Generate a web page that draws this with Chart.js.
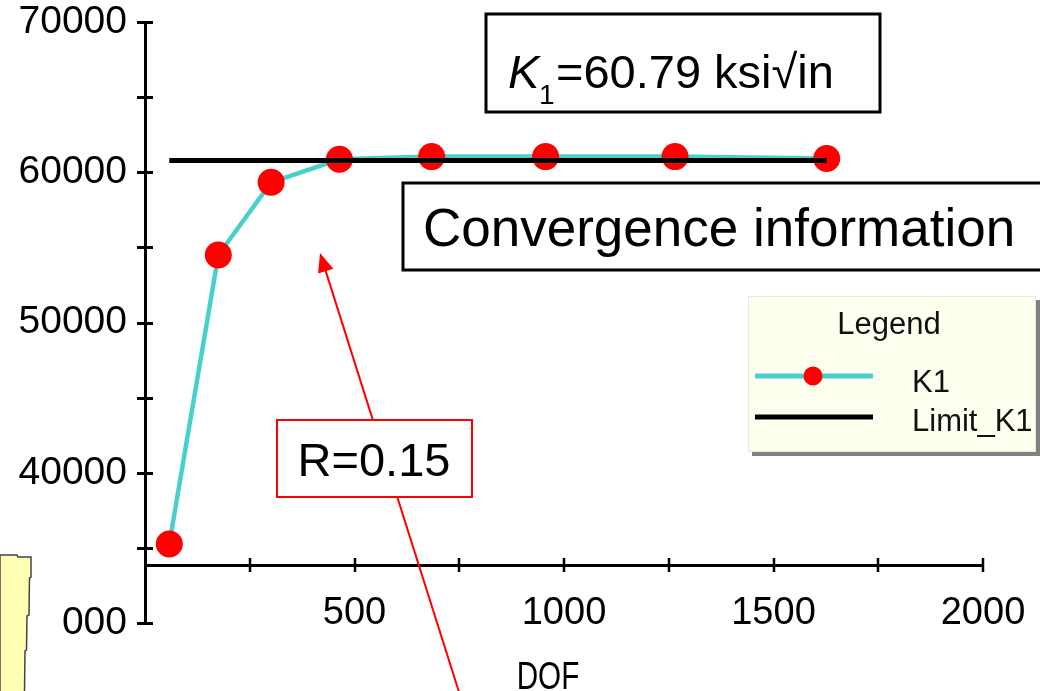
<!DOCTYPE html>
<html><head><meta charset="utf-8">
<script src="https://cdn.jsdelivr.net/npm/chart.js@4.4.1/dist/chart.umd.min.js"></script>
<style>html,body{margin:0;padding:0;background:#fff;overflow:hidden}#wrap{width:1040px;height:691px;position:relative}</style>
</head><body><div id="wrap"><canvas id="c" width="1040" height="691"></canvas></div>
<script>
// ---- data ----
const dof = [58, 175, 301, 464, 684, 956, 1265, 1627];
const k1 = [35260, 54490, 59330, 60860, 61040, 61040, 61040, 60920];
const limitDof = [58, 1627];
const limitK1 = [60790, 60790];
const xTickValues = [500, 1000, 1500, 2000];
const yTickValues = [30000, 40000, 50000, 60000, 70000];
const yTickTexts = ['000', '40000', '50000', '60000', '70000'];
const seriesNames = ['K1', 'Limit_K1'];
const xAxisCross = 33860;

const FONT = "'Liberation Sans', Arial, sans-serif";
const CYAN = '#48D1CC';

const overlay = {
  id: 'overlay',
  afterDraw(chart) {
    const c = chart.ctx, ca = chart.chartArea;
    const xs = chart.scales.x, ys = chart.scales.y;
    c.save();
    // tick marks crossing the axes
    c.strokeStyle = '#000';
    c.lineWidth = 3;
    ys.ticks.forEach(t => {
      const py = Math.round(ys.getPixelForValue(t.value)) + 0.5;
      c.beginPath(); c.moveTo(ca.left - 8, py); c.lineTo(ca.left + 8, py); c.stroke();
    });
    const axY = ys.getPixelForValue(xAxisCross);
    c.lineWidth = 2.5;
    xs.ticks.forEach(t => {
      if (t.value <= 0) return;
      const px = Math.round(xs.getPixelForValue(t.value));
      c.beginPath(); c.moveTo(px, axY - 7); c.lineTo(px, axY + 7); c.stroke();
    });
    // axis title
    c.fillStyle = '#000';
    c.save();
    c.translate(548, 689); c.scale(0.78, 1);
    c.font = '38px ' + FONT;
    c.textAlign = 'center'; c.textBaseline = 'alphabetic';
    c.fillText('DOF', 0, 0);
    c.restore();

    // yellow note at left bottom
    c.beginPath();
    const poly = [[0,555],[17,555],[18,557],[31,557],[31,577],[29.5,578],[29,615],[27,616],[26.5,650],[25,651],[24.5,692],[0,692]];
    poly.forEach((p,i)=> i ? c.lineTo(p[0],p[1]) : c.moveTo(p[0],p[1]));
    c.closePath();
    c.fillStyle = '#FFFFB3'; c.fill();
    c.strokeStyle = '#444'; c.lineWidth = 1.5; c.stroke();

    // K1 value box
    c.fillStyle = '#fff'; c.strokeStyle = '#000'; c.lineWidth = 3;
    c.fillRect(486, 14, 394, 98); c.strokeRect(486, 14, 394, 98);
    c.fillStyle = '#000'; c.textAlign = 'left';
    c.font = 'italic 47px ' + FONT; c.fillText('K', 508, 88);
    c.font = '28px ' + FONT; c.fillText('1', 539, 104);
    c.font = '47px ' + FONT; c.fillText('=60.79 ksi\u221Ain', 556, 88);

    // Convergence information box
    c.fillStyle = '#fff'; c.lineWidth = 3;
    c.fillRect(403, 183, 660, 87); c.strokeRect(403, 183, 660, 87);
    c.fillStyle = '#000'; c.font = '53px ' + FONT;
    c.fillText('Convergence information', 423, 246);

    // red arrow
    c.strokeStyle = '#FF0000'; c.fillStyle = '#FF0000'; c.lineWidth = 2;
    const tip = [320, 253], tail = [459, 692];
    const ang = Math.atan2(tail[1]-tip[1], tail[0]-tip[0]);
    c.beginPath(); c.moveTo(tail[0], tail[1]); c.lineTo(tip[0] + 14*Math.cos(ang), tip[1] + 14*Math.sin(ang)); c.stroke();
    c.beginPath();
    c.moveTo(tip[0], tip[1]);
    c.lineTo(tip[0] + 19*Math.cos(ang) - 8*Math.sin(ang), tip[1] + 19*Math.sin(ang) + 8*Math.cos(ang));
    c.lineTo(tip[0] + 19*Math.cos(ang) + 8*Math.sin(ang), tip[1] + 19*Math.sin(ang) - 8*Math.cos(ang));
    c.closePath(); c.fill();

    // R box
    c.fillStyle = '#fff'; c.lineWidth = 2;
    c.fillRect(277, 420, 195, 77); c.strokeRect(277, 420, 195, 77);
    c.fillStyle = '#000'; c.font = '47px ' + FONT; c.textAlign = 'center';
    c.fillText('R=0.15', 374, 476);

    // legend panel
    c.fillStyle = '#808080'; c.fillRect(752, 300, 288, 156);
    c.fillStyle = '#FFFFF0'; c.fillRect(748, 296, 288, 156);
    c.strokeStyle = '#E8E8E0'; c.lineWidth = 1; c.strokeRect(748.5, 296.5, 287, 155);
    c.fillStyle = '#111'; c.font = '31px ' + FONT; c.textAlign = 'center';
    c.fillText('Legend', 889, 334);
    const ds = chart.data.datasets;
    c.strokeStyle = ds[0].borderColor; c.lineWidth = 5;
    c.beginPath(); c.moveTo(755, 376); c.lineTo(873, 376); c.stroke();
    c.fillStyle = ds[0].pointBackgroundColor;
    c.beginPath(); c.arc(813, 376, 9.5, 0, Math.PI*2); c.fill();
    c.strokeStyle = ds[1].borderColor; c.lineWidth = 5;
    c.beginPath(); c.moveTo(755, 417); c.lineTo(873, 417); c.stroke();
    c.fillStyle = '#111'; c.textAlign = 'left'; c.font = '31px ' + FONT;
    c.fillText(ds[0].label, 912, 392);
    c.fillText(ds[1].label, 912, 431);
    c.restore();
  }
};

new Chart(document.getElementById('c'), {
  type: 'scatter',
  data: {
    datasets: [
      { label: seriesNames[0], data: dof.map((x, i) => ({ x, y: k1[i] })), showLine: true,
        borderColor: CYAN, borderWidth: 4.5, tension: 0,
        pointRadius: 13.5, pointHoverRadius: 13.5, pointBackgroundColor: '#FF0000', pointBorderColor: '#FF0000', pointBorderWidth: 0,
        order: 1, clip: false },
      { label: seriesNames[1], data: limitDof.map((x, i) => ({ x, y: limitK1[i] })), showLine: true,
        borderColor: '#000000', borderWidth: 5, pointRadius: 0, pointHoverRadius: 0, borderCapStyle: 'butt',
        order: 0, clip: false }
    ]
  },
  options: {
    responsive: false, animation: false, devicePixelRatio: 1,
    layout: { padding: { left: 0, right: 57, top: 22, bottom: 68 } },
    plugins: { legend: { display: false }, tooltip: { enabled: false } },
    events: [],
    scales: {
      x: {
        type: 'linear', min: 0, max: 2000, position: { y: xAxisCross },
        grid: { display: false, drawTicks: false },
        border: { display: true, color: '#000', width: 3 },
        ticks: { stepSize: 250, autoSkip: false, maxRotation: 0, padding: 26, color: '#000',
          font: { family: FONT, size: 38 },
          callback: v => xTickValues.includes(v) ? String(v) : '' },
        afterFit: s => { s.paddingLeft = 0; s.paddingRight = 0; }
      },
      y: {
        type: 'linear', min: 30000, max: 70000,
        grid: { display: false, drawTicks: false },
        border: { display: true, color: '#000', width: 3 },
        ticks: { stepSize: 5000, autoSkip: false, padding: 18, color: '#000',
          font: { family: FONT, size: 39 },
          callback: v => { const i = yTickValues.indexOf(v); return i >= 0 ? yTickTexts[i] : ''; } },
        afterFit: s => { s.width = 145; s.paddingTop = 0; s.paddingBottom = 0; }
      }
    }
  },
  plugins: [overlay]
});
</script></body></html>
